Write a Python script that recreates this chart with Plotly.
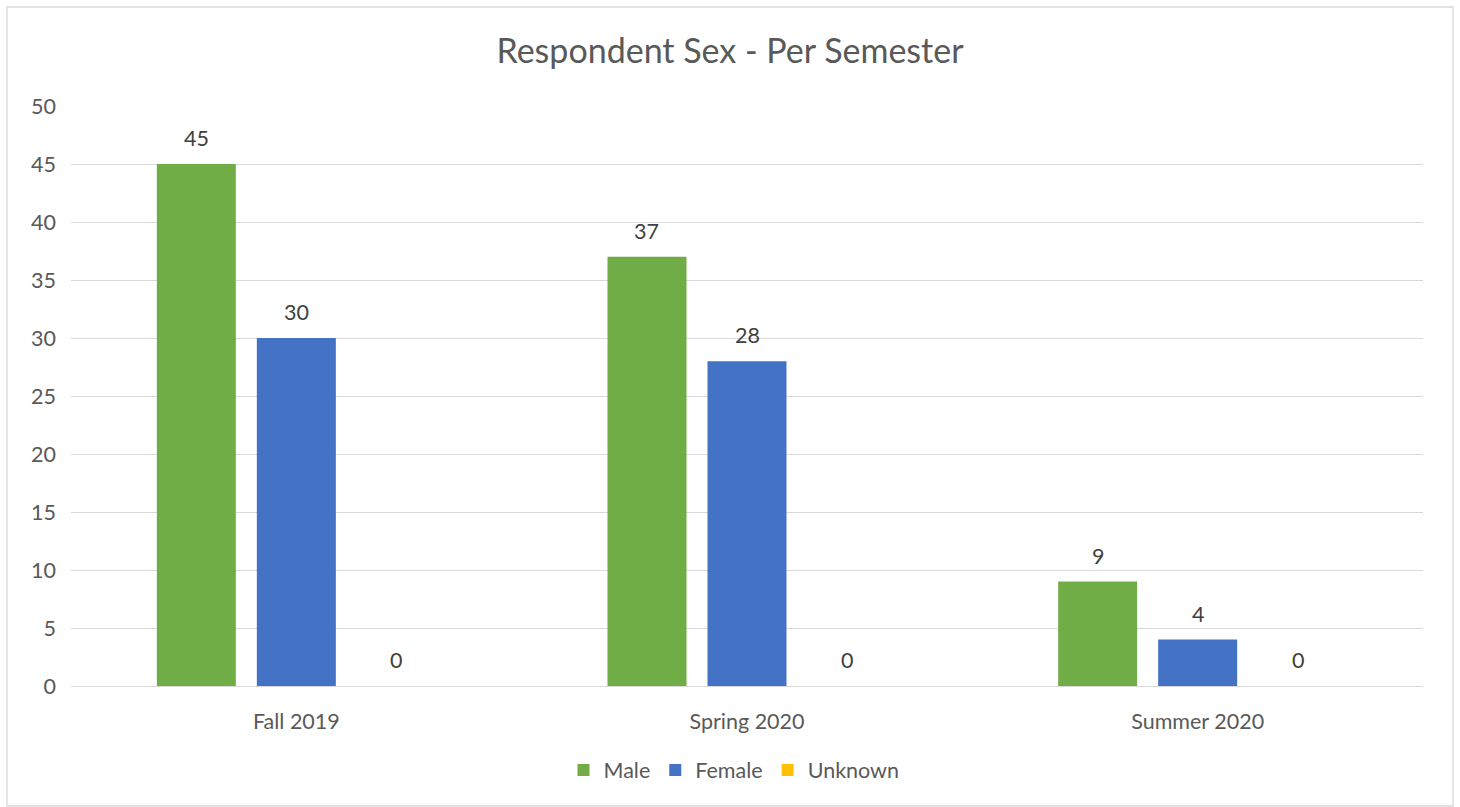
import plotly.graph_objects as go

semesters = ["Fall 2019", "Spring 2020", "Summer 2020"]
male = [45, 37, 9]
female = [30, 28, 4]
unknown = [0, 0, 0]
series_names = ["Male", "Female", "Unknown"]
series_colors = ["#70AD47", "#4472C4", "#FFC000"]
y_ticks = [0, 5, 10, 15, 20, 25, 30, 35, 40, 45, 50]

W, H = 1460, 807
ML, MR, MT, MB = 71, 37, 106, 121
FONT = "Lato"
FS = 21.5
BARGAP = 0.3343
GROUPGAP = 0.21

fig = go.Figure()
series = [male, female, unknown]
for name, vals, col in zip(series_names, series, series_colors):
    fig.add_trace(go.Bar(x=semesters, y=vals, name=name, marker=dict(color=col, line=dict(width=0))))

# data labels as annotations centered over each bar
plot_w = W - ML - MR
cat_w = plot_w / len(semesters)
slot = cat_w * (1 - BARGAP) / len(series)
for i, vals in enumerate(series):
    for cat, v in zip(semesters, vals):
        fig.add_annotation(x=cat, y=v, text=str(v), showarrow=False,
                           xref="x", yref="y", yanchor="bottom",
                           xshift=(i - 1) * slot, yshift=11,
                           font=dict(family=FONT, size=FS, color="#404040"))

# chart border
fig.add_shape(type="rect", xref="paper", yref="paper",
              x0=(7 - ML) / plot_w, x1=(1453 - ML) / plot_w,
              y0=-(806 - (H - MB)) / (H - MT - MB), y1=1 + (MT - 7) / (H - MT - MB),
              line=dict(color="#D9D9D9", width=1.3), fillcolor="rgba(0,0,0,0)", layer="below")

fig.update_layout(
    width=W, height=H,
    margin=dict(l=ML, r=MR, t=MT, b=MB),
    paper_bgcolor="white", plot_bgcolor="white",
    barmode="group", bargap=BARGAP, bargroupgap=GROUPGAP,
    title=dict(text="Respondent Sex - Per Semester", x=730 / W, xanchor="center",
               y=1 - 51 / H, yanchor="middle", xref="container", yref="container",
               font=dict(family=FONT, size=34, color="#595959")),
    font=dict(family=FONT, size=FS, color="#595959"),
    legend=dict(orientation="h", x=(734 - ML) / plot_w, xanchor="center",
                y=-(770 - (H - MB)) / (H - MT - MB), yanchor="middle",
                font=dict(family=FONT, size=FS, color="#595959"),
                itemwidth=30, traceorder="normal"),
    showlegend=True,
)
fig.update_yaxes(range=[0, 50], tickvals=y_ticks, showgrid=True, gridcolor="#D9D9D9", gridwidth=1,
                 zeroline=False, showline=False, ticks="", ticklabelstandoff=14,
                 tickfont=dict(family=FONT, size=FS, color="#595959"))
fig.update_xaxes(showline=True, linecolor="#D9D9D9", linewidth=1, ticks="", ticklabelstandoff=16,
                 tickfont=dict(family=FONT, size=FS, color="#595959"))

fig.write_html("out.html", config={"displayModeBar": False})
with open("out.html") as f:
    html = f.read()
html = html.replace("<head>", "<head><style>html,body{margin:0;padding:0;overflow:hidden}</style>", 1)
with open("out.html", "w") as f:
    f.write(html)
